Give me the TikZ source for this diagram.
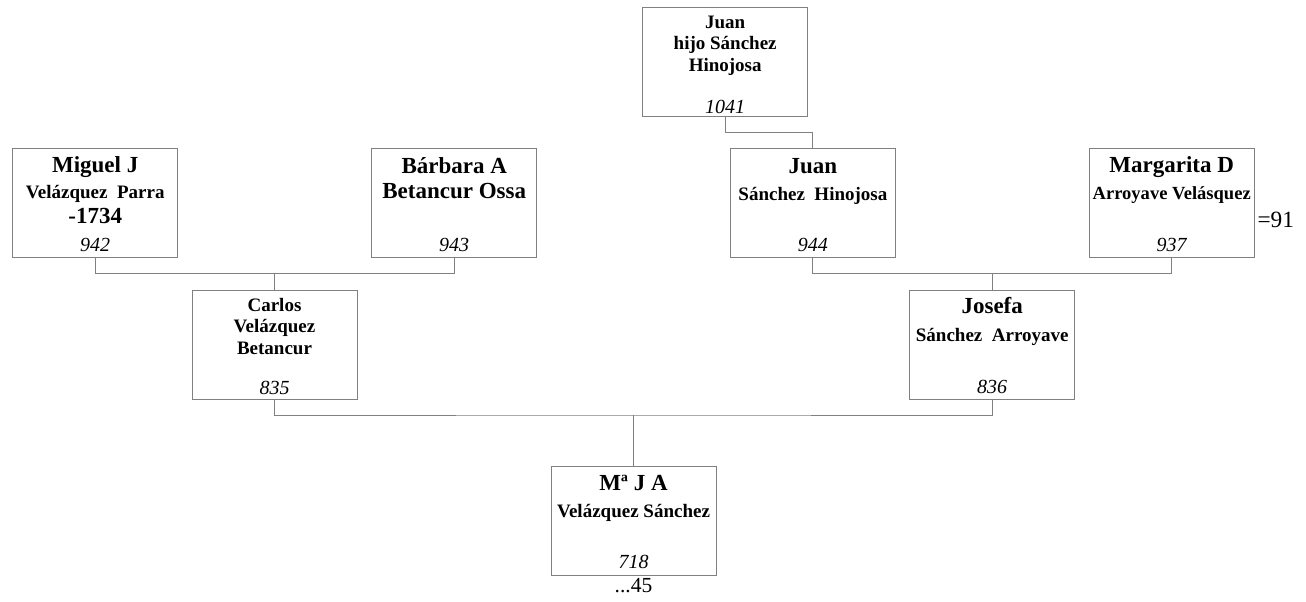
\documentclass[tikz,border=0pt]{standalone}
\usepackage{fontspec}
\setmainfont{Liberation Serif}
\definecolor{linegray}{HTML}{808080}
\newcommand\bigname{\fontsize{17.25}{20}\selectfont\bfseries}
\newcommand\subname{\fontsize{14.25}{17}\selectfont\bfseries}
\newcommand\numfont{\fontsize{15}{18}\selectfont\itshape}
\newcommand\plainbig{\fontsize{17.5}{20}\selectfont}
\begin{document}
\begin{tikzpicture}[x=0.75pt,y=-0.75pt,
  person/.style={draw=linegray,line width=0.75pt,rectangle,minimum width=123.75pt,minimum height=82pt,inner sep=0pt},
  txt/.style={anchor=base,inner sep=0pt,outer sep=0pt},
  big/.style={txt,font=\bigname},
  sub/.style={txt,font=\subname},
  num/.style={txt,font=\numfont},
  plain/.style={txt,font=\plainbig},
  link/.style={draw=linegray,line width=0.75pt}]
\useasboundingbox (0,0) rectangle (1306,602);

% boxes
\node[person] (miguel)    at (95.2,203.3) {};
\node[person] (barbara)   at (454.2,203.3) {};
\node[person] (juanhijo)  at (725.2,62) {};
\node[person] (juan)      at (812.9,203.3) {};
\node[person] (margarita) at (1171.7,203.3) {};
\node[person] (carlos)    at (274.5,344.7) {};
\node[person] (josefa)    at (992.2,344.7) {};
\node[person] (mja)       at (633.5,520.8) {};

% Miguel
\node[big] (mi1) at (95.2,172.3) {Miguel J};
\node[sub] (mi2) at (95.2,199) {Velázquez~~Parra};
\node[big] (mi3) at (95.2,223.3) {-1734};
\node[num] (mi4) at (95.2,251.7) {942};
% Barbara
\node[big] (ba1) at (454.2,173.3) {Bárbara A};
\node[big] (ba2) at (454.2,199) {Betancur Ossa};
\node[num] (ba3) at (454.2,251.7) {943};
% Juan hijo
\node[sub] (jh1) at (725.2,28.3) {Juan};
\node[sub] (jh2) at (725.2,50) {hijo Sánchez};
\node[sub] (jh3) at (725.2,71.7) {Hinojosa};
\node[num] (jh4) at (725.2,113.3) {1041};
% Juan
\node[big] (ju1) at (812.9,173.3) {Juan};
\node[sub] (ju2) at (812.9,201) {Sánchez~~Hinojosa};
\node[num] (ju3) at (812.9,251.7) {944};
% Margarita
\node[big] (ma1) at (1171.7,172.3) {Margarita D};
\node[sub,font=\fontsize{13.9}{17}\selectfont\bfseries] (ma2) at (1171.7,200) {Arroyave Velásquez};
\node[num] (ma3) at (1171.7,251.7) {937};
\node[plain,anchor=base west] (ma4) at (1257.5,228) {=91};
% Carlos
\node[sub] (ca1) at (274.5,311.7) {Carlos};
\node[sub] (ca2) at (274.5,332.7) {Velázquez};
\node[sub] (ca3) at (274.5,354) {Betancur};
\node[num] (ca4) at (274.5,394.5) {835};
% Josefa
\node[big] (jo1) at (992.2,314) {Josefa};
\node[sub] (jo2) at (992.2,341) {Sánchez~~Arroyave};
\node[num] (jo3) at (992.2,393.3) {836};
% Ma J A
\node[big] (mj1) at (633.5,490) {Mª J A};
\node[sub] (mj2) at (633.5,517.3) {Velázquez Sánchez};
\node[num] (mj3) at (633.5,568.3) {718};
\node[plain,font=\fontsize{16.1}{19}\selectfont] (mj4) at (633.5,592.3) {...45};

% connectors
\coordinate (jl) at (274.5,273.3);
\coordinate (jr) at (992.2,273.3);
\coordinate (jh) at (725.2,132.7);
\coordinate (jb) at (633.5,415);
\draw[link] (miguel.south) |- (jl) -| (barbara.south);
\draw[link] (jl) -- (carlos.north);
\draw[link] (juanhijo.south) -- (jh) -| (juan.north);
\draw[link] (juan.south) |- (jr) -| (margarita.south);
\draw[link] (jr) -- (josefa.north);
\draw[link] (carlos.south) |- (jb) -| (josefa.south);
\draw[link] (jb) -- (mja.north);
\end{tikzpicture}
\end{document}
